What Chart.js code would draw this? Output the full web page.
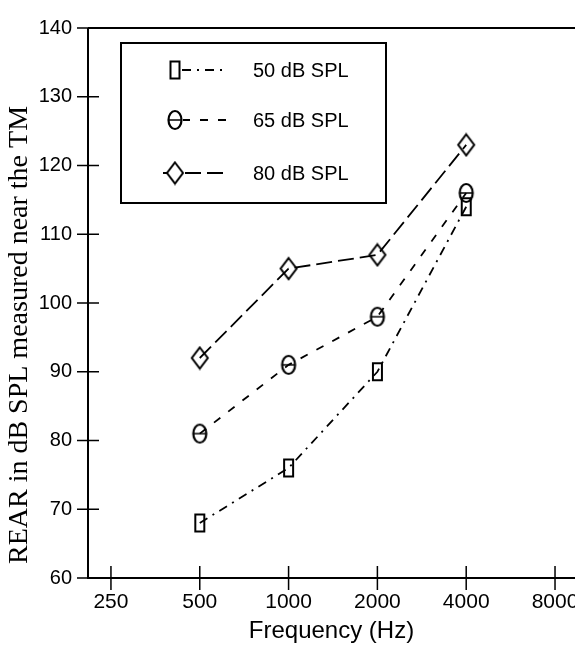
<!DOCTYPE html>
<html lang="en">
<head>
    <meta charset="utf-8" />
    <title>REAR vs Frequency</title>
    <style>
        html, body { margin: 0; padding: 0; background: #fff; }
        #chart { display: block; }
    </style>
</head>
<body>
    <canvas id="chart" width="575" height="646"></canvas>

    <script src="https://cdn.jsdelivr.net/npm/chart.js"></script>
    <script>
        // data
        var freqs = [500, 1000, 2000, 4000];
        var spl50 = [68, 76, 90, 114];
        var spl65 = [81, 91, 98, 116];
        var spl80 = [92, 105, 107, 123];
        var seriesLabels = ["50 dB SPL", "65 dB SPL", "80 dB SPL"];
        var xTicks = [250, 500, 1000, 2000, 4000, 8000];
        var yMin = 60, yMax = 140, yStep = 10;

        var sansFont = '"Liberation Sans", Arial, Helvetica, sans-serif';
        var serifFont = '"Liberation Serif", "Times New Roman", serif';

        // marker images
        function makeRect() {
            var c = document.createElement("canvas");
            c.width = 13; c.height = 21;
            var g = c.getContext("2d");
            g.strokeStyle = "#000";
            g.lineWidth = 2;
            g.strokeRect(2, 2, 9, 17);
            return c;
        }
        function makeTheta() {
            var c = document.createElement("canvas");
            c.width = 20; c.height = 24;
            var g = c.getContext("2d");
            g.strokeStyle = "#000";
            g.lineWidth = 2.2;
            g.beginPath();
            g.ellipse(10, 12, 6.5, 9, 0, 0, Math.PI * 2);
            g.stroke();
            g.lineWidth = 1.5;
            g.beginPath();
            g.moveTo(4, 12); g.lineTo(16, 12);
            g.stroke();
            return c;
        }
        function makeDiamond() {
            var c = document.createElement("canvas");
            c.width = 20; c.height = 25;
            var g = c.getContext("2d");
            g.strokeStyle = "#000";
            g.lineWidth = 2;
            g.beginPath();
            g.moveTo(10, 2); g.lineTo(18, 12.5); g.lineTo(10, 23); g.lineTo(2, 12.5);
            g.closePath();
            g.stroke();
            return c;
        }

        var markers = [makeRect(), makeTheta(), makeDiamond()];
        var dashes = [[9, 6, 2, 6], [8, 10], [16, 6]];

        function pts(ys) {
            return freqs.map(function (f, i) { return { x: f, y: ys[i] }; });
        }

        var allSeries = [spl50, spl65, spl80];
        var datasets = allSeries.map(function (ys, i) {
            return {
                label: seriesLabels[i],
                data: pts(ys),
                borderColor: "#000",
                borderWidth: 1.8,
                borderDash: dashes[i],
                pointStyle: markers[i],
                pointRadius: 8,
                fill: false,
                tension: 0
            };
        });

        // axes frame, crossing ticks, legend box and y title
        var framePlugin = {
            id: "frame",
            afterDraw: function (chart) {
                var ctx = chart.ctx;
                var a = chart.chartArea;
                var xs = chart.scales.x, ys = chart.scales.y;
                ctx.save();
                ctx.strokeStyle = "#000";

                // axis lines + top border
                ctx.lineWidth = 2;
                ctx.beginPath();
                ctx.moveTo(a.left, a.top); ctx.lineTo(chart.width, a.top);
                ctx.moveTo(a.left, a.top); ctx.lineTo(a.left, a.bottom);
                ctx.lineTo(chart.width, a.bottom);
                ctx.stroke();

                // ticks
                ctx.lineWidth = 1.5;
                ctx.beginPath();
                ys.ticks.forEach(function (t) {
                    var y = ys.getPixelForValue(t.value);
                    ctx.moveTo(a.left - 11, y); ctx.lineTo(a.left + 11, y);
                });
                xs.ticks.forEach(function (t) {
                    var x = xs.getPixelForValue(t.value);
                    ctx.moveTo(x, a.bottom - 12); ctx.lineTo(x, a.bottom + 12);
                });
                ctx.stroke();

                // legend
                var bx = 121, by = 43, bw = 265, bh = 160;
                ctx.lineWidth = 2;
                ctx.strokeRect(bx, by, bw, bh);
                var rowY = [70, 120, 173];
                chart.data.datasets.forEach(function (ds, i) {
                    var y = rowY[i];
                    ctx.lineWidth = 1.8;
                    ctx.setLineDash(ds.borderDash);
                    ctx.beginPath();
                    ctx.moveTo(i === 2 ? 163 : 182, y);
                    ctx.lineTo(226, y);
                    ctx.stroke();
                    ctx.setLineDash([]);
                    var m = ds.pointStyle;
                    ctx.fillStyle = "#fff";
                    ctx.fillRect(175 - m.width / 2 + 2, y - m.height / 2 + 2, m.width - 4, m.height - 4);
                    ctx.drawImage(m, 175 - m.width / 2, y - m.height / 2);
                    ctx.fillStyle = "#000";
                    ctx.font = "20px " + sansFont;
                    ctx.textAlign = "left";
                    ctx.textBaseline = "middle";
                    ctx.fillText(ds.label, 253, y + 1);
                });

                // y axis title
                ctx.translate(20, (a.top + a.bottom) / 2 + 32);
                ctx.rotate(-Math.PI / 2);
                ctx.font = "28px " + serifFont;
                ctx.textAlign = "center";
                ctx.textBaseline = "middle";
                ctx.fillStyle = "#000";
                ctx.fillText("REAR in dB SPL measured near the TM", 0, 0);
                ctx.restore();
            }
        };

        Chart.defaults.font.family = sansFont;
        Chart.defaults.color = "#000";

        var chart = new Chart(document.getElementById("chart"), {
            type: "line",
            data: { datasets: datasets },
            options: {
                responsive: false,
                animation: false,
                layout: {
                    autoPadding: false,
                    padding: { top: 22, right: 0, left: 0, bottom: 0 }
                },
                plugins: {
                    legend: { display: false },
                    tooltip: { enabled: false }
                },
                scales: {
                    x: {
                        type: "logarithmic",
                        min: 209,
                        max: 9350,
                        grid: { display: false, drawTicks: false },
                        border: { display: false },
                        afterBuildTicks: function (s) {
                            s.ticks = xTicks.map(function (v) { return { value: v }; });
                        },
                        afterFit: function (s) {
                            s.height = 68;
                            s.paddingLeft = 0;
                            s.paddingRight = 0;
                        },
                        ticks: {
                            autoSkip: false,
                            maxRotation: 0,
                            padding: 12,
                            font: { size: 21 },
                            callback: function (v) { return String(v); }
                        },
                        title: {
                            display: true,
                            text: "Frequency (Hz)",
                            font: { size: 24 },
                            padding: { top: 0, bottom: 0 }
                        }
                    },
                    y: {
                        min: yMin,
                        max: yMax,
                        grid: { display: false, drawTicks: false },
                        border: { display: false },
                        afterFit: function (s) { s.width = 88; },
                        ticks: {
                            stepSize: yStep,
                            padding: 16,
                            font: { size: 20 }
                        }
                    }
                }
            },
            plugins: [framePlugin]
        });
    </script>
</body>
</html>
